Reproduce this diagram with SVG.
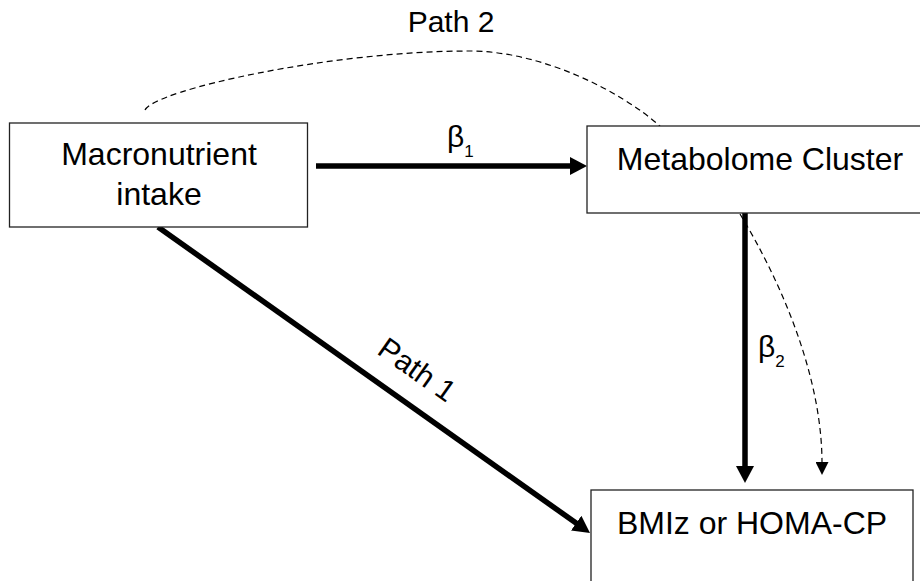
<svg xmlns="http://www.w3.org/2000/svg" width="920" height="581" viewBox="0 0 920 581">
  <defs>
    <style>
      .box { fill: #ffffff; stroke: #222222; stroke-width: 1.3; }
      .lbl { font-family: "Liberation Sans", Arial, Helvetica, sans-serif; fill: #000000; }
      .node { font-size: 32px; text-anchor: middle; }
      .path { font-size: 30px; }
      .thick { stroke: #000000; stroke-width: 5.5; fill: none; }
      .dash { stroke: #000000; stroke-width: 1.2; fill: none; stroke-dasharray: 6 4; }
    </style>
    <marker id="headThick" markerUnits="userSpaceOnUse" markerWidth="17" markerHeight="18" refX="2" refY="9" orient="auto">
      <path d="M0,0 L17,9 L0,18 z" fill="#000000"/>
    </marker>
    <marker id="headThin" markerUnits="userSpaceOnUse" markerWidth="13" markerHeight="13" refX="1" refY="6.5" orient="auto">
      <path d="M0,0 L13,6.5 L0,13 z" fill="#000000"/>
    </marker>
  </defs>
  <rect width="920" height="581" fill="#ffffff"/>

  <g id="connectors">
    <path class="dash" d="M145,110 C155,90 330,51 470,51 C540,51 620,90 661,127"/>
    <text class="lbl path" x="451" y="32" text-anchor="middle">Path 2</text>

    <line class="thick" x1="316" y1="166" x2="572" y2="166" marker-end="url(#headThick)"/>
    <text class="lbl" x="447" y="147" font-size="30">β<tspan font-size="17" dy="10">1</tspan></text>

    <line class="thick" x1="745" y1="213" x2="745" y2="468" marker-end="url(#headThick)"/>
    <text class="lbl" x="758" y="357" font-size="30">β<tspan font-size="17" dy="10">2</tspan></text>

    <path class="dash" d="M740,214 C780,280 822,375 822,463" marker-end="url(#headThin)"/>

    <line class="thick" x1="158" y1="227" x2="577.8" y2="524.3" marker-end="url(#headThick)"/>
    <text class="lbl path" transform="translate(417,370) rotate(35.3)" x="0" y="10" text-anchor="middle">Path 1</text>
  </g>

  <g id="node-macronutrient">
    <rect class="box" x="9.5" y="123" width="298" height="104"/>
    <text class="lbl node" x="159" y="165">Macronutrient</text>
    <text class="lbl node" x="159" y="205">intake</text>
  </g>

  <g id="node-metabolome">
    <rect class="box" x="587" y="126" width="346" height="87"/>
    <text class="lbl node" x="760" y="170">Metabolome Cluster</text>
  </g>

  <g id="node-outcome">
    <rect class="box" x="591" y="490" width="322" height="110"/>
    <text class="lbl node" x="752" y="534">BMIz or HOMA-CP</text>
  </g>
</svg>
